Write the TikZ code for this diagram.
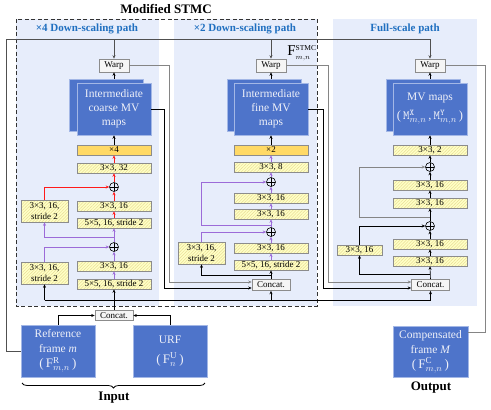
\documentclass[tikz,border=0pt]{standalone}
\usepackage{fontspec}
\setmainfont{Liberation Serif}
\usepackage{amsmath}
\usetikzlibrary{arrows.meta,patterns.meta,decorations.pathreplacing,calc}
\definecolor{panel}{HTML}{E7EDFB}
\definecolor{mvblue}{HTML}{4E74CA}
\definecolor{mvedge}{HTML}{A3B7E6}
\definecolor{hdr}{HTML}{1F6FC0}
\definecolor{ylw}{HTML}{FFFFC6}
\definecolor{hatch}{HTML}{E9DE96}
\definecolor{org}{HTML}{FFD966}
\definecolor{redl}{HTML}{FF1A1A}
\definecolor{purp}{HTML}{9C6BD8}
\definecolor{gline}{HTML}{858585}
\definecolor{boxedge}{HTML}{8C8C8C}
\definecolor{mvtext}{HTML}{EEF0F8}
\definecolor{topl}{HTML}{505050}
\tikzset{
  arr/.style={-{Stealth[length=3.5pt,width=3pt]}},
  blk/.style={draw=black,line width=0.6pt},
  pur/.style={draw=purp,line width=0.8pt,-{Stealth[length=3.5pt,width=3pt,fill=purp]}},
  rd/.style={draw=redl,line width=0.8pt,-{Stealth[length=3.5pt,width=3pt,fill=redl]}},
  gry/.style={draw=gline,line width=1pt},
  topline/.style={draw=topl,line width=0.8pt},
  ybox/.style={draw=boxedge,line width=0.6pt,preaction={fill=ylw},
    pattern={Lines[angle=45,distance=2.2pt,line width=0.5pt]},pattern color=hatch,
    minimum width=74pt,minimum height=10pt,inner sep=0pt,font=\fontsize{9}{10}\selectfont},
  obox/.style={draw=boxedge,line width=0.6pt,fill=org,
    minimum width=74pt,minimum height=10pt,inner sep=0pt,font=\fontsize{9}{10}\selectfont},
  lbox/.style={ybox,minimum width=47pt,minimum height=22pt,align=center,font=\fontsize{9}{10.5}\selectfont},
  warpbox/.style={draw=boxedge,line width=0.6pt,fill=gray!8,minimum width=30pt,minimum height=13pt,
    inner sep=0pt,font=\fontsize{9}{10}\selectfont},
  catbox/.style={draw=boxedge,line width=0.6pt,fill=gray!8,minimum width=38pt,minimum height=11pt,
    inner sep=0pt,font=\fontsize{9}{10}\selectfont},
  mvbox/.style={draw=mvedge,line width=0.5pt,fill=mvblue,minimum width=74pt,minimum height=52pt,
    inner sep=0pt,text=mvtext,align=center,font=\fontsize{11.5}{14}\selectfont},
  oplus/.style={circle,draw=black,line width=0.6pt,minimum size=9pt,inner sep=0pt,
    path picture={\draw[line width=0.5pt] (path picture bounding box.north) -- (path picture bounding box.south)
      (path picture bounding box.west) -- (path picture bounding box.east);}},
  hdrtext/.style={font=\bfseries\fontsize{11}{12}\selectfont,text=hdr},
  bigtext/.style={font=\bfseries\fontsize{13}{14}\selectfont},
}
\begin{document}
\begin{tikzpicture}[x=1pt,y=-1pt]
\useasboundingbox (0,0) rectangle (491,410);
% panels
\fill[panel] (16,19) rectangle (159,306);
\fill[panel] (174,19) rectangle (317,306);
\fill[panel] (333,19) rectangle (477,306);
\draw[line width=0.8pt,dash pattern=on 4pt off 2.5pt,draw=black!80] (16,19) rectangle (317,306);
\node[bigtext] (title) at (166,9) {Modified STMC};
\node[hdrtext] (h1) at (87,29) {×4 Down-scaling path};
\node[hdrtext] (h2) at (245,29) {×2 Down-scaling path};
\node[hdrtext] (h3) at (405,29) {Full-scale path};

% x4 path
\node[warpbox] (w1) at (114,65.5) {Warp};
\node[mvbox] (mv1b) at (106,105) {};
\node[mvbox] (mv1) at (114,109) {Intermediate\\coarse MV\\maps};
\node[obox] (x4) at (114,150) {×4};
\node[ybox] (a32) at (114,168) {3×3, 32};
\node[oplus] (p1) at (114,187) {};
\node[ybox] (a16) at (114,206) {3×3, 16};
\node[ybox] (a55) at (114,223) {5×5, 16, stride 2};
\node[lbox] (la1) at (44.5,211) {3×3, 16,\\stride 2};
\node[oplus] (p2) at (114,247) {};
\node[ybox] (b16) at (114,266) {3×3, 16};
\node[ybox] (b55) at (114,284) {5×5, 16, stride 2};
\node[lbox] (lb1) at (44.5,273) {3×3, 16,\\stride 2};
\node[catbox,minimum height=10pt] (c1) at (114,315.5) {Concat.};

% x2 path
\node[warpbox] (w2) at (271,65.5) {Warp};
\node[mvbox] (mv2b) at (264,105) {};
\node[mvbox] (mv2) at (271,109) {Intermediate\\fine MV\\maps};
\node[obox] (x2) at (271,150) {×2};
\node[ybox] (d8) at (271,167) {3×3, 8};
\node[oplus] (q1) at (271,182) {};
\node[ybox] (d16a) at (271,198) {3×3, 16};
\node[ybox] (d16b) at (271,214) {3×3, 16};
\node[oplus] (q2) at (271,232) {};
\node[ybox] (e16) at (271,248) {3×3, 16};
\node[ybox] (e55) at (271,265) {5×5, 16, stride 2};
\node[lbox] (l2) at (201.5,253) {3×3, 16,\\stride 2};
\node[catbox] (c2) at (271,285) {Concat.};
\node[font=\fontsize{15}{15}\selectfont] (fstmc) at (302,53) {$\mathrm{F}^{\scriptscriptstyle\mathrm{STMC}}_{\scriptscriptstyle m,n}$};

% full path
\node[warpbox] (w3) at (430,65.5) {Warp};
\node[mvbox] (mv3b) at (423,105) {};
\node[mvbox,font=\fontsize{11.5}{19}\selectfont] (mv3) at (430,109) {MV maps\\{\fontsize{12.5}{14}\selectfont(\,$\mathtt{M}^{\mathtt{X}}_{m,n}$\,,\,$\mathtt{M}^{\mathtt{Y}}_{m,n}$\,)}};
\node[ybox] (f2) at (430,150) {3×3, 2};
\node[oplus] (r1) at (430,167) {};
\node[ybox] (f16a) at (430,185) {3×3, 16};
\node[ybox] (f16b) at (430,203) {3×3, 16};
\node[oplus] (r2) at (430,226) {};
\node[ybox] (g16a) at (430,244) {3×3, 16};
\node[ybox] (g16b) at (430,261) {3×3, 16};
\node[ybox,minimum width=45pt] (l3) at (359.5,250) {3×3, 16};
\node[catbox] (c3) at (430.5,285) {Concat.};

% inputs / output
\node[mvbox,font=\fontsize{11.5}{15}\selectfont] (ref) at (58,351) {Reference\\frame \textit{m}\\{\fontsize{13}{14}\selectfont(\,$\mathrm{F}^{\mathrm{R}}_{m,n}$\,)}};
\node[mvbox,font=\fontsize{11.5}{20}\selectfont] (urf) at (170,351) {URF\\{\fontsize{13}{14}\selectfont(\,$\mathrm{F}^{\mathrm{U}}_{n}$\,)}};
\node[mvbox,minimum width=75pt,minimum height=51pt,font=\fontsize{11.5}{15}\selectfont] (comp) at (430.5,351.5) {Compensated\\frame \textit{M}\\{\fontsize{13}{14}\selectfont(\,$\mathrm{F}^{\mathrm{C}}_{m,n}$\,)}};
\coordinate (bl) at (22,383);
\coordinate (brr) at (205,383);
\draw[decorate,decoration={brace,amplitude=5pt,mirror},line width=0.8pt] (bl) -- (brr);
\node[bigtext] (inp) at (114,398) {Input};
\node[bigtext] (outp) at (431,388) {Output};

% top bus
\coordinate (tl) at (6,39);
\coordinate (tr) at (430,39);
\draw[topline] (ref.west) -| (tl) -- (tr);
\draw[topline,arr] (w1.north |- tl) -- (w1.north);
\draw[topline,arr] (w2.north |- tl) -- (w2.north);
\draw[topline,arr] (tr) -- (w3.north);

% warps from MV
\draw[blk,arr] (w1.south |- mv1b.north) -- (w1.south);
\draw[blk,arr] (w2.south |- mv2b.north) -- (w2.south);
\draw[blk,arr] (w3.south |- mv3b.north) -- (w3.south);

% input concat
\draw[blk,arr] (ref.north) |- (c1.west);
\draw[blk,arr] (urf.north) |- (c1.east);
\draw[blk,arr] (c1.north) -- (b55.south);
\coordinate (busL) at (44.5,300);
\coordinate (busR) at (430.5,300);
\draw[blk] (busL) -- (busR);
\draw[blk,arr] (busL) -- (lb1.south);
\draw[blk,arr] (c2.south |- busR) -- (c2.south);
\draw[blk,arr] (busR) -- (c3.south);

% x4 connectors
\draw[pur] (b55.north) -- (b16.south);
\draw[pur] (b16.north) -- (p2.south);
\draw[pur] (lb1.north) |- (p2.west);
\draw[pur] (p2.north) -- (a55.south);
\coordinate (br1) at (114,237);
\draw[pur] (br1) -| (la1.south);
\draw[rd] (a55.north) -- (a16.south);
\draw[rd] (a16.north) -- (p1.south);
\draw[rd] (la1.north) |- (p1.west);
\draw[rd] (p1.north) -- (a32.south);
\draw[rd] (a32.north) -- (x4.south);
\draw[blk,arr] (x4.north) -- (mv1.south);

% x2 connectors
\draw[blk,arr] (c2.north) -- (e55.south);
\coordinate (br2) at (271,275);
\draw[blk,arr] (br2) -| (l2.south);
\draw[pur] (e55.north) -- (e16.south);
\draw[pur] (e16.north) -- (q2.south);
\draw[pur] (l2.north) |- (q2.west);
\draw[pur] (q2.north) -- (d16b.south);
\coordinate (br3) at (271,225);
\draw[pur] (br3) -- (br3 -| l2.north) |- (q1.west);
\draw[pur] (d16b.north) -- (d16a.south);
\draw[pur] (d16a.north) -- (q1.south);
\draw[pur] (q1.north) -- (d8.south);
\draw[pur] (d8.north) -- (x2.south);
\draw[blk,arr] (x2.north) -- (mv2.south);

% full connectors
\draw[blk,arr] (c3.north) -- (g16b.south);
\coordinate (br4) at (430,274);
\draw[blk,arr] (br4) -| (l3.south);
\draw[blk,arr] (g16b.north) -- (g16a.south);
\draw[blk,arr] (g16a.north) -- (r2.south);
\draw[blk,arr] (l3.north) |- (r2.west);
\draw[blk,arr] (r2.north) -- (f16b.south);
\coordinate (br5) at (430,217);
\draw[gry,arr] (br5) -- (br5 -| l3.north) |- (r1.west);
\draw[blk,arr] (f16b.north) -- (f16a.south);
\draw[blk,arr] (f16a.north) -- (r1.south);
\draw[blk,arr] (r1.north) -- (f2.south);
\draw[blk,arr] (f2.north) -- (mv3.south);

% side outputs
\coordinate (k1) at (169,282);
\coordinate (k2) at (164,288);
\coordinate (k3) at (328,282);
\coordinate (k4) at (323,288);
\coordinate (k5) at (485,332);
\draw[gry,arr] (w1.east) -| (k1) -- (k1 -| c2.west);
\draw[blk,arr] (mv1.east) -| (k2) -- (k2 -| c2.west);
\draw[gry,arr] (w2.east) -| (k3) -- (k3 -| c3.west);
\draw[blk,arr] (mv2.east) -| (k4) -- (k4 -| c3.west);
\draw[gry] (w3.east) -| (k5) -- (k5 -| comp.east);
\end{tikzpicture}
\end{document}
